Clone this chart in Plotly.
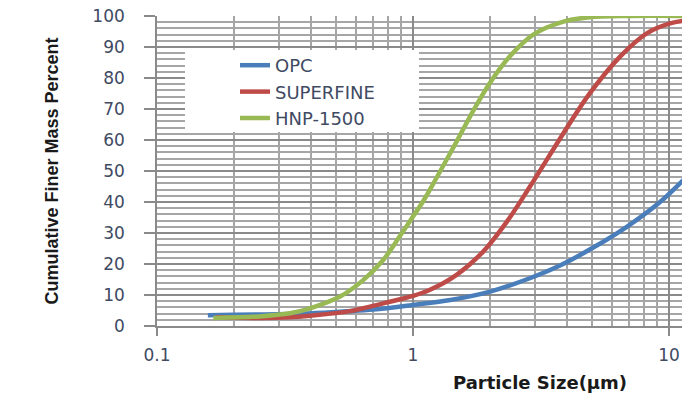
import plotly.graph_objects as go

# ---- data ----
opc_size = [0.158, 0.2, 0.331, 0.447, 0.70, 1.0, 1.40, 2.0, 2.86, 3.75, 5.06, 6.84, 9.23, 11.04, 12.1]
opc_pct = [3.5, 3.6, 3.9, 4.3, 5.3, 6.8, 8.4, 11.1, 15.4, 19.5, 25.3, 32.0, 40.0, 46.0, 49.2]

sf_size = [0.17, 0.25, 0.331, 0.396, 0.567, 0.765, 1.0, 1.16, 1.48, 1.88, 2.32, 2.86, 3.87, 4.91, 6.44, 8.19, 10.1, 12.1]
sf_pct = [2.8, 2.6, 2.8, 3.3, 4.8, 7.3, 9.7, 11.6, 16.5, 24.0, 33.5, 44.9, 62.2, 75.1, 86.9, 94.4, 97.6, 98.7]

hnp_size = [0.166, 0.25, 0.331, 0.396, 0.519, 0.639, 0.765, 0.889, 1.0, 1.1, 1.23, 1.48, 1.72, 2.0, 2.39, 2.95, 3.87, 4.9, 7.0, 12.1]
hnp_pct = [2.6, 3.1, 4.1, 5.7, 9.5, 14.8, 21.3, 29.0, 35.3, 40.5, 47.5, 59.5, 69.5, 78.5, 87.0, 94.0, 98.2, 99.6, 100.0, 100.0]

series_names = ["OPC", "SUPERFINE", "HNP-1500"]
x_tickvals = [0.1, 1, 10]
x_ticktext = ["0.1", "1", "10"]
y_tickvals = [0, 10, 20, 30, 40, 50, 60, 70, 80, 90, 100]

colors = ["#4A7EBB", "#BE4B48", "#98B954"]
tick_font = dict(family="DejaVu Sans, Verdana, sans-serif", size=17, color="#404a62")

fig = go.Figure()
for name, xs, ys, c in zip(series_names, [opc_size, sf_size, hnp_size],
                           [opc_pct, sf_pct, hnp_pct], colors):
    fig.add_trace(go.Scatter(x=xs, y=ys, name=name, mode="lines",
                             line=dict(color=c, width=4.5, shape="spline", smoothing=1.0)))

# page body has an 8px offset; layout below is expressed in page pixels
OFF = 8
W, H = 690, 398
PL, PT, PB = 157, 16, 326          # plot left / top / bottom in page pixels
L = PL - OFF
T = PT - OFF
B = H - (PB - OFF)
pw = W - L
ph = H - T - B

def px_x(p):
    return (p - PL) / pw

def px_y(p):
    return (PB - p) / ph

fig.update_layout(
    width=W, height=H,
    margin=dict(l=L, r=0, t=T, b=B, autoexpand=False),
    paper_bgcolor="white", plot_bgcolor="white",
    showlegend=True,
    legend=dict(x=px_x(235), y=px_y(47), xanchor="left", yanchor="top",
                bgcolor="rgba(255,255,255,0)", borderwidth=0,
                font=dict(family="DejaVu Sans, Verdana, sans-serif", size=18, color="#404a62"),
                itemwidth=30, tracegroupgap=0),
    shapes=[dict(type="rect", xref="paper", yref="paper",
                 x0=px_x(185), x1=px_x(419), y0=px_y(132), y1=px_y(50),
                 fillcolor="white", line=dict(width=0), layer="above")],
    annotations=[dict(text="<b>Particle Size(µm)</b>", xref="paper", yref="paper",
                      x=px_x(540), y=px_y(382), xanchor="center", yanchor="middle",
                      showarrow=False,
                      font=dict(family="DejaVu Sans, Verdana, sans-serif", size=18, color="#1a1a1a"))],
)

fig.update_xaxes(
    type="log", range=[-1, -1 + pw / 256.0],
    tickvals=x_tickvals, ticktext=x_ticktext,
    showgrid=True, gridcolor="#8a8a8a", gridwidth=1.6,
    minor=dict(dtick="D1", showgrid=True, gridcolor="#a6a6a6", gridwidth=1.5, ticks=""),
    showline=True, linecolor="#8a8a8a", linewidth=1.6,
    ticks="outside", ticklen=8, tickcolor="#8a8a8a", tickwidth=1.6,
    ticklabelstandoff=5,
    tickfont=tick_font, zeroline=False, automargin=False,
)
fig.update_yaxes(
    range=[0, 100], tickvals=y_tickvals,
    showgrid=True, gridcolor="#8a8a8a", gridwidth=1.6,
    minor=dict(dtick=2, showgrid=True, gridcolor="#a6a6a6", gridwidth=1.5, ticks=""),
    showline=True, linecolor="#8a8a8a", linewidth=1.6,
    ticks="outside", ticklen=11, tickcolor="#8a8a8a", tickwidth=1.6,
    ticklabelstandoff=16, ticklabeloverflow="allow",
    tickfont=tick_font, zeroline=False,
    title=dict(text="<b>Cumulative Finer Mass Percent</b>", standoff=29,
               font=dict(family="Liberation Sans Narrow, Arial Narrow, sans-serif", size=18, color="#1a1a1a")),
    automargin=False,
)

fig.write_html("out.html")
